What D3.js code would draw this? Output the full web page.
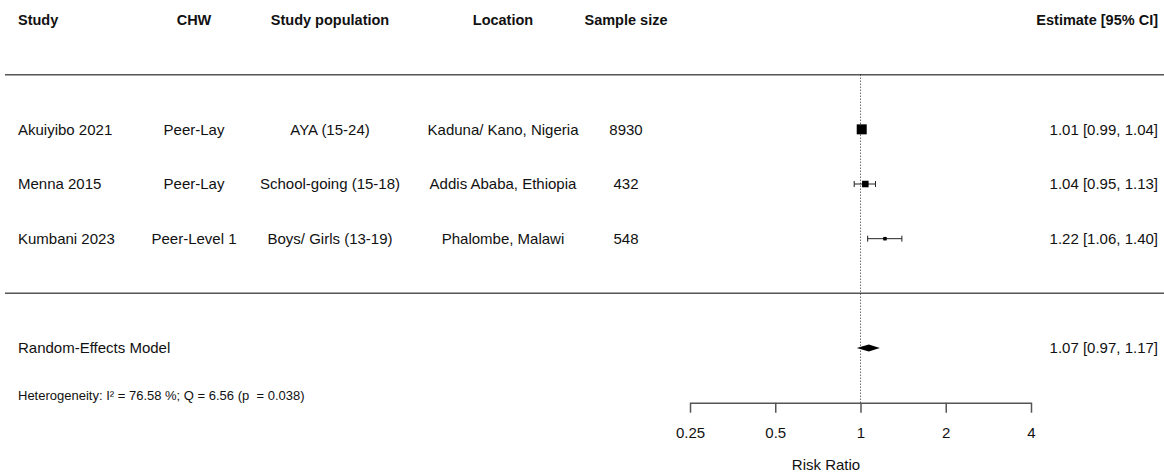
<!DOCTYPE html>
<html>
<head>
<meta charset="utf-8">
<script src="https://cdn.jsdelivr.net/npm/d3@7"></script>
<style>
  html, body { margin: 0; padding: 0; background: #fff; }
  svg { display: block; font-family: "Liberation Sans", Arial, Helvetica, sans-serif; }
  text { fill: #111; }
</style>
</head>
<body>
<svg id="chart" width="1164" height="474"></svg>
<script>
// ---- data ----
const headers = ["Study", "CHW", "Study population", "Location", "Sample size", "Estimate [95% CI]"];
const studies = ["Akuiyibo 2021", "Menna 2015", "Kumbani 2023"];
const chw = ["Peer-Lay", "Peer-Lay", "Peer-Level 1"];
const population = ["AYA (15-24)", "School-going (15-18)", "Boys/ Girls (13-19)"];
const locations = ["Kaduna/ Kano, Nigeria", "Addis Ababa, Ethiopia", "Phalombe, Malawi"];
const sampleSize = [8930, 432, 548];
const estimate = [1.01, 1.04, 1.22];
const ciLower = [0.99, 0.95, 1.06];
const ciUpper = [1.04, 1.13, 1.40];
const weights = [44.4, 32.9, 22.8];          // random-effects weights (%)
const pooledLabel = "Random-Effects Model";
const pooledEstimate = 1.07;
const pooledLower = 0.97;
const pooledUpper = 1.17;
const heterogeneity = "Heterogeneity: I\u00B2 = 76.58 %; Q = 6.56 (p  = 0.038)";
const tickValues = [0.25, 0.5, 1, 2, 4];
const tickLabels = ["0.25", "0.5", "1", "2", "4"];
const xLabel = "Risk Ratio";

// ---- layout ----
const W = 1164;
const svg = d3.select("#chart");
const fmt = d3.format(".2f");

// effect axis (log scale)
const x = d3.scaleLog().base(2).domain([0.25, 4]).range([690, 1031]);
// row units: header 5, top rule 4, studies 3..1, bottom rule 0, pooled -1, axis -2
const y = d3.scaleLinear().domain([5, -2]).range([20, 402.7]);
const sizeScale = d3.scaleLinear().domain(d3.extent(weights)).range([3.5, 10]);

const col = { study: 18, chw: 194, pop: 330, loc: 503, n: 626, est: 1158 };
const bodyFont = 15;

// header row
const headerAnchors = [
  [col.study, "start"], [col.chw, "middle"], [col.pop, "middle"],
  [col.loc, "middle"], [col.n, "middle"], [col.est, "end"]
];
svg.append("g").selectAll("text").data(headers).join("text")
  .attr("x", (d, i) => headerAnchors[i][0])
  .attr("y", y(5))
  .attr("dy", "0.35em")
  .attr("text-anchor", (d, i) => headerAnchors[i][1])
  .attr("font-weight", "bold")
  .attr("font-size", 14.5)
  .text(d => d);

// horizontal rules
svg.append("g").selectAll("line").data([4, 0]).join("line")
  .attr("x1", 5).attr("x2", W)
  .attr("y1", d => y(d)).attr("y2", d => y(d))
  .attr("stroke", "#555").attr("stroke-width", 1.5);

// reference line at RR = 1
svg.append("line")
  .attr("x1", x(1)).attr("x2", x(1))
  .attr("y1", y(4)).attr("y2", y(-2))
  .attr("stroke", "#222").attr("stroke-width", 1)
  .attr("stroke-dasharray", "1,2");

// study rows
const rows = studies.map((s, i) => ({
  study: s, chw: chw[i], pop: population[i], loc: locations[i], n: sampleSize[i],
  est: estimate[i], lo: ciLower[i], hi: ciUpper[i], w: weights[i], row: 3 - i
}));

const rowG = svg.append("g").selectAll("g").data(rows).join("g")
  .attr("transform", d => `translate(0,${y(d.row)})`);

const cells = [
  [d => d.study, col.study, "start"],
  [d => d.chw, col.chw, "middle"],
  [d => d.pop, col.pop, "middle"],
  [d => d.loc, col.loc, "middle"],
  [d => d.n, col.n, "middle"],
  [d => `${fmt(d.est)} [${fmt(d.lo)}, ${fmt(d.hi)}]`, col.est, "end"]
];
cells.forEach(([acc, cx, anchor]) => {
  rowG.append("text")
    .attr("x", cx).attr("dy", "0.35em")
    .attr("text-anchor", anchor)
    .attr("font-size", bodyFont)
    .text(acc);
});

// confidence intervals with end caps
rowG.append("line")
  .attr("x1", d => x(d.lo)).attr("x2", d => x(d.hi))
  .attr("stroke", "#222").attr("stroke-width", 1);
[d => d.lo, d => d.hi].forEach(acc => {
  rowG.append("line")
    .attr("x1", d => x(acc(d))).attr("x2", d => x(acc(d)))
    .attr("y1", -3).attr("y2", 3)
    .attr("stroke", "#222").attr("stroke-width", 1);
});

// weighted squares
rowG.append("rect")
  .attr("x", d => x(d.est) - sizeScale(d.w) / 2)
  .attr("y", d => -sizeScale(d.w) / 2)
  .attr("width", d => sizeScale(d.w))
  .attr("height", d => sizeScale(d.w))
  .attr("fill", "#000");

// pooled estimate
const py = y(-1);
svg.append("text")
  .attr("x", col.study).attr("y", py).attr("dy", "0.35em")
  .attr("font-size", bodyFont).text(pooledLabel);
svg.append("text")
  .attr("x", col.est).attr("y", py).attr("dy", "0.35em")
  .attr("text-anchor", "end").attr("font-size", bodyFont)
  .text(`${fmt(pooledEstimate)} [${fmt(pooledLower)}, ${fmt(pooledUpper)}]`);
svg.append("polygon")
  .attr("points", [
    [x(pooledLower), py], [x(pooledEstimate), py - 3.5],
    [x(pooledUpper), py], [x(pooledEstimate), py + 3.5]
  ].map(p => p.join(",")).join(" "))
  .attr("fill", "#000");

// heterogeneity statistics
svg.append("text")
  .attr("x", col.study).attr("y", y(-1.86)).attr("dy", "0.35em")
  .attr("font-size", 13)
  .style("white-space", "pre")
  .text(heterogeneity);

// x axis
const axis = d3.axisBottom(x)
  .tickValues(tickValues)
  .tickFormat((d, i) => tickLabels[i])
  .tickSize(10).tickSizeOuter(0).tickPadding(15);
const ax = svg.append("g").attr("transform", `translate(0,${y(-2)})`).call(axis);
ax.select(".domain").attr("stroke", "#555").attr("stroke-width", 1.5);
ax.selectAll(".tick line").attr("stroke", "#555").attr("stroke-width", 1.5);
ax.selectAll(".tick text")
  .attr("font-size", 15)
  .attr("font-family", "Liberation Sans, Arial, sans-serif")
  .attr("fill", "#111");

svg.append("text")
  .attr("x", 826).attr("y", 465).attr("dy", "0.35em")
  .attr("text-anchor", "middle").attr("font-size", 15)
  .text(xLabel);
</script>
</body>
</html>
